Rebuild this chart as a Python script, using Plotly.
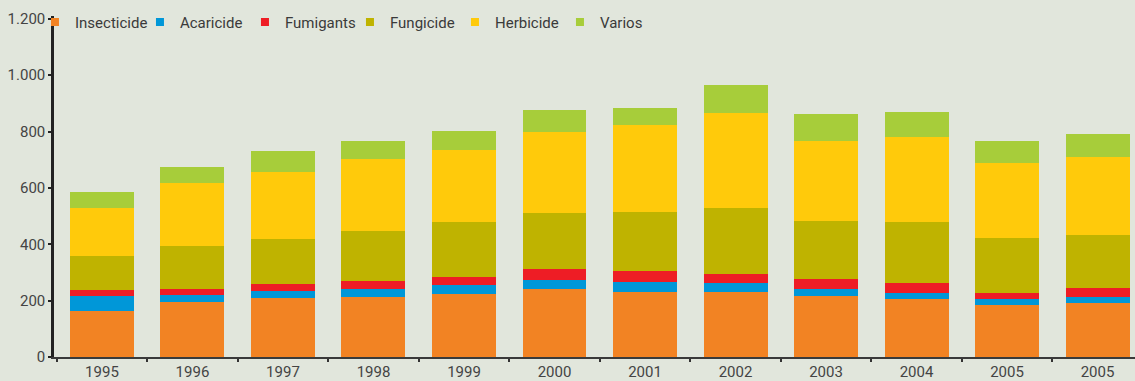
import plotly.graph_objects as go

# Year labels (the last two bars are both labelled 2005)
years = ["1995", "1996", "1997", "1998", "1999", "2000",
         "2001", "2002", "2003", "2004", "2005", "2005"]

# Stacked segment values per product group
insecticide = [163, 194, 208, 213, 222, 241, 229, 229, 217, 207, 184, 190]
acaricide   = [53, 25, 25, 29, 34, 32, 37, 33, 24, 19, 21, 23]
fumigants   = [22, 23, 26, 28, 28, 39, 40, 32, 36, 36, 22, 32]
fungicide   = [121, 152, 161, 178, 195, 200, 209, 236, 206, 217, 196, 188]
herbicide   = [169, 224, 238, 253, 255, 288, 309, 335, 284, 301, 264, 275]
varios      = [58, 57, 74, 66, 68, 78, 59, 101, 95, 89, 78, 83]

series = [
    ("Insecticide", insecticide, "#f28323"),
    ("Acaricide", acaricide, "#0097d8"),
    ("Fumigants", fumigants, "#ee1d25"),
    ("Fungicide", fungicide, "#bfb300"),
    ("Herbicide", herbicide, "#ffca0b"),
    ("Varios", varios, "#a7cd3a"),
]

positions = list(range(len(years)))
bg = "#e1e6dc"
font_family = "Roboto"

fig = go.Figure()
for name, vals, color in series:
    fig.add_trace(go.Bar(
        x=positions, y=vals, name=name, width=0.707,
        marker=dict(color=color, line=dict(width=0)),
        showlegend=False,
    ))
# small square legend keys
for name, vals, color in series:
    fig.add_trace(go.Scatter(
        x=[None], y=[None], mode="markers", name=name,
        marker=dict(symbol="square", size=8, color=color),
        showlegend=True,
    ))

fig.update_layout(
    width=1135, height=381,
    margin=dict(l=54, r=0, t=16, b=24),
    paper_bgcolor=bg, plot_bgcolor=bg,
    barmode="stack", bargap=0,
    separators=",.",
    font=dict(family=font_family, size=15, color="#444444"),
    legend=dict(
        orientation="h", x=-0.0176, xanchor="left", y=1.03, yanchor="top",
        bgcolor="rgba(0,0,0,0)", font=dict(size=15, color="#3a3a3a"),
        itemwidth=30, traceorder="normal",
        entrywidth=60, entrywidthmode="pixels",
    ),
    xaxis=dict(
        range=[-0.53, 11.414], tickmode="array", tickvals=positions,
        ticktext=years, ticks="", showgrid=False, zeroline=False,
        showline=True, linecolor="#3a3a3a", linewidth=1.5,
        minor=dict(tick0=0.5, dtick=1, ticks="outside", ticklen=3,
                   tickwidth=2, tickcolor="#333333", showgrid=False),
        tickfont=dict(size=15, color="#444444"),
        automargin=False,
    ),
    yaxis=dict(
        range=[0, 1210], tickmode="array",
        tickvals=[0, 200, 400, 600, 800, 1000, 1200], tickformat=",d",
        ticks="outside", ticklen=3, tickwidth=2, tickcolor="#222222",
        showgrid=False, zeroline=False, automargin=False,
        showline=True, linecolor="#222222", linewidth=2.5,
        tickfont=dict(size=15, color="#444444"),
    ),
)

fig.write_html("out.html")
